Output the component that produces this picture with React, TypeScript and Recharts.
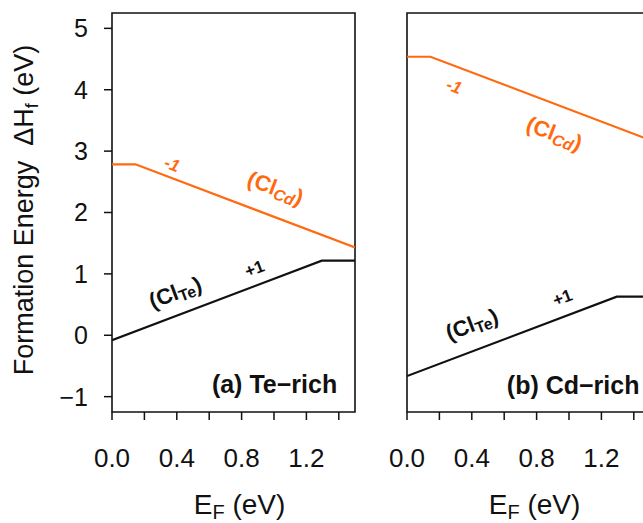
import React from "react";
import {
  LineChart,
  Line,
  XAxis,
  YAxis,
  ReferenceArea,
  ReferenceDot,
} from "recharts";

// Fermi level ticks (eV); only every second one gets a label
const efTicks = [0, 0.2, 0.4, 0.6, 0.8, 1.0, 1.2, 1.4];
const efLabeled = [0, 0.4, 0.8, 1.2];
const dhTicks = [-1, 0, 1, 2, 3, 4, 5];

// (a) Te-rich
const teRichClTeEf = [0, 1.295, 1.5];
const teRichClTeDh = [-0.08, 1.215, 1.215];
const teRichClCdEf = [0, 0.145, 1.5];
const teRichClCdDh = [2.785, 2.785, 1.43];

// (b) Cd-rich
const cdRichClTeEf = [0, 1.295, 1.5];
const cdRichClTeDh = [-0.665, 0.63, 0.63];
const cdRichClCdEf = [0, 0.145, 1.5];
const cdRichClCdDh = [4.537, 4.537, 3.18];

const ORANGE = "#ff6a0f";
const INK = "#111";
const ANGLE = 20.8;

const toPoints = (ef: number[], dh: number[]) =>
  ef.map((e, i) => ({ ef: e, dh: dh[i] }));

const fmtEf = (v: number) =>
  efLabeled.some((t) => Math.abs(t - v) < 1e-6) ? v.toFixed(1) : "";
const fmtDh = (v: number) => (v < 0 ? "\u2212" + Math.abs(v) : String(v));

type Spot = { ef: number; dh: number };
type NoteSet = {
  cdLabel: Spot;
  cdCharge: Spot;
  teLabel: Spot;
  teCharge: Spot;
  panel: Spot;
  panelText: string;
};

const noteShape =
  (kind: string, text?: string) =>
  (p: any) => {
    const { cx, cy } = p;
    if (kind === "cdLabel")
      return (
        <text
          x={cx}
          y={cy}
          transform={`rotate(${ANGLE} ${cx} ${cy})`}
          textAnchor="middle"
          dominantBaseline="central"
          fontSize={22}
          fontWeight="bold"
          fill={ORANGE}
        >
          (Cl
          <tspan fontSize={16} fontStyle="italic" dy={5}>
            Cd
          </tspan>
          <tspan dy={-5}>)</tspan>
        </text>
      );
    if (kind === "teLabel")
      return (
        <text
          x={cx}
          y={cy}
          transform={`rotate(${-ANGLE} ${cx} ${cy})`}
          textAnchor="middle"
          dominantBaseline="central"
          fontSize={22}
          fontWeight="bold"
          fill={INK}
        >
          (Cl
          <tspan fontSize={16} dy={5}>
            Te
          </tspan>
          <tspan dy={-5}>)</tspan>
        </text>
      );
    if (kind === "cdCharge")
      return (
        <text
          x={cx}
          y={cy}
          transform={`rotate(${ANGLE} ${cx} ${cy})`}
          textAnchor="middle"
          dominantBaseline="central"
          fontSize={17}
          fontWeight="bold"
          fontStyle="italic"
          fill={ORANGE}
        >
          -1
        </text>
      );
    if (kind === "teCharge")
      return (
        <text
          x={cx}
          y={cy}
          transform={`rotate(${-ANGLE} ${cx} ${cy})`}
          textAnchor="middle"
          dominantBaseline="central"
          fontSize={17}
          fontWeight="bold"
          fill={INK}
        >
          +1
        </text>
      );
    return (
      <text
        x={cx}
        y={cy}
        textAnchor="end"
        fontSize={25}
        fontWeight="bold"
        fill={INK}
      >
        {text}
      </text>
    );
  };

const XLabel = (props: any) => {
  const vb = props.viewBox;
  return (
    <text
      x={vb.x + vb.width / 2 + 6}
      y={vb.y + 102}
      textAnchor="middle"
      fontSize={28}
      fill={INK}
    >
      E
      <tspan fontSize={20} dy={5}>
        F
      </tspan>
      <tspan dy={-5}>{" (eV)"}</tspan>
    </text>
  );
};

const YLabel = () => (
  <text
    x={33}
    y={210}
    transform="rotate(-90 33 210)"
    textAnchor="middle"
    fontSize={27}
    fill={INK}
  >
    {"Formation Energy\u00a0\u00a0\u0394H"}
    <tspan fontSize={18} dy={5}>
      f
    </tspan>
    <tspan dy={-5}>{" (eV)"}</tspan>
  </text>
);

const teRichNotes: NoteSet = {
  cdLabel: { ef: 1.01, dh: 2.4 },
  cdCharge: { ef: 0.37, dh: 2.78 },
  teLabel: { ef: 0.39, dh: 0.7 },
  teCharge: { ef: 0.88, dh: 1.08 },
  panel: { ef: 1.39, dh: -0.945 },
  panelText: "(a) Te\u2212rich",
};

const cdRichNotes: NoteSet = {
  cdLabel: { ef: 0.91, dh: 3.29 },
  cdCharge: { ef: 0.29, dh: 4.05 },
  teLabel: { ef: 0.4, dh: 0.18 },
  teCharge: { ef: 0.96, dh: 0.61 },
  panel: { ef: 1.435, dh: -0.956 },
  panelText: "(b) Cd\u2212rich",
};

function Panel({
  clTe,
  clCd,
  notes,
  withY,
  width,
  margin,
}: {
  clTe: Spot[];
  clCd: Spot[];
  notes: NoteSet;
  withY: boolean;
  width: number;
  margin: any;
}) {
  return (
    <LineChart width={width} height={523} margin={margin}>
      <XAxis
        type="number"
        dataKey="ef"
        domain={[0, 1.5]}
        ticks={efTicks}
        interval={0}
        allowDataOverflow
        tickFormatter={fmtEf}
        tick={{ fontSize: 26, fill: INK }}
        tickSize={8}
        tickMargin={29}
        tickLine={{ stroke: INK, strokeWidth: 1.5 }}
        axisLine={false}
        height={111}
        label={XLabel}
      />
      <YAxis
        type="number"
        domain={[-1.25, 5.25]}
        ticks={dhTicks}
        interval={0}
        allowDataOverflow
        hide={!withY}
        tickFormatter={fmtDh}
        tick={{ fontSize: 25, fill: INK }}
        tickSize={8}
        tickMargin={16}
        tickLine={{ stroke: INK, strokeWidth: 1.5 }}
        axisLine={false}
        width={112}
        label={withY ? YLabel : undefined}
      />
      <ReferenceArea
        x1={0}
        x2={1.5}
        y1={-1.25}
        y2={5.25}
        fill="none"
        stroke={INK}
        strokeWidth={1.6}
        ifOverflow="visible"
      />
      <Line
        data={clCd}
        dataKey="dh"
        type="linear"
        stroke={ORANGE}
        strokeWidth={2.2}
        dot={false}
        isAnimationActive={false}
      />
      <Line
        data={clTe}
        dataKey="dh"
        type="linear"
        stroke={INK}
        strokeWidth={2.2}
        dot={false}
        isAnimationActive={false}
      />
      {(["cdLabel", "cdCharge", "teLabel", "teCharge", "panel"] as const).map(
        (k) => (
          <ReferenceDot
            key={k}
            x={notes[k].ef}
            y={notes[k].dh}
            r={0}
            ifOverflow="visible"
            shape={noteShape(k, notes.panelText)}
          />
        )
      )}
    </LineChart>
  );
}

export default function App() {
  return (
    <div
      style={{
        position: "absolute",
        left: 0,
        top: 0,
        width: 643,
        height: 523,
        overflow: "hidden",
        background: "#fff",
        fontFamily: "'Liberation Sans', Arial, sans-serif",
      }}
    >
      <div style={{ position: "absolute", left: 0, top: 0 }}>
        <Panel
          clTe={toPoints(teRichClTeEf, teRichClTeDh)}
          clCd={toPoints(teRichClCdEf, teRichClCdDh)}
          notes={teRichNotes}
          withY
          width={380}
          margin={{ top: 13, right: 25, bottom: 0, left: 0 }}
        />
      </div>
      <div style={{ position: "absolute", left: 380, top: 0 }}>
        <Panel
          clTe={toPoints(cdRichClTeEf, cdRichClTeDh)}
          clCd={toPoints(cdRichClCdEf, cdRichClCdDh)}
          notes={cdRichNotes}
          withY={false}
          width={300}
          margin={{ top: 13, right: 30, bottom: 0, left: 27 }}
        />
      </div>
    </div>
  );
}
